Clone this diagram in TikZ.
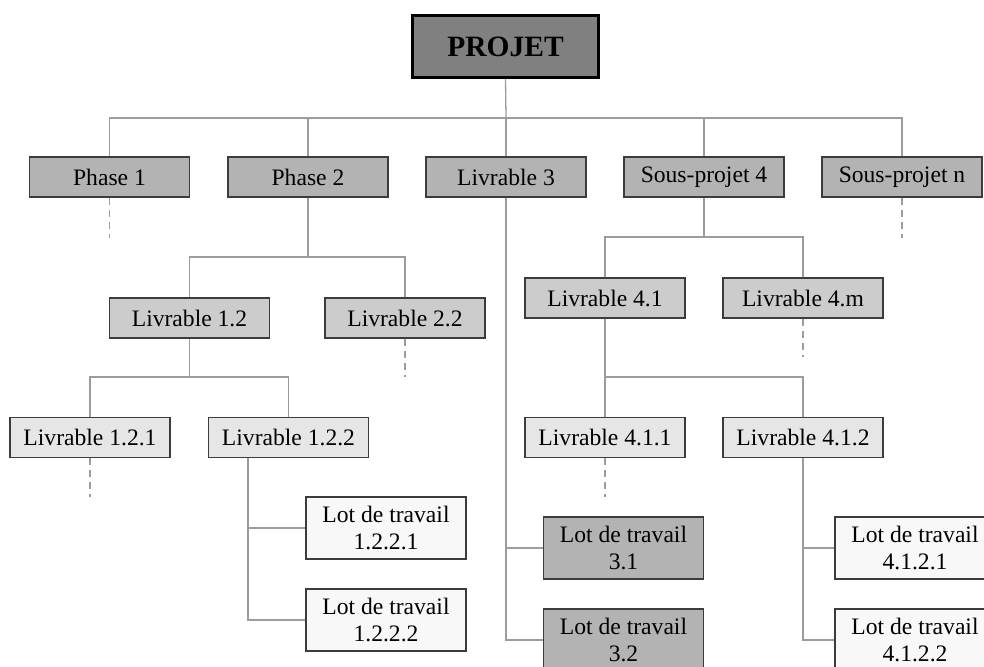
\documentclass[tikz,border=0pt]{standalone}
\usepackage{fontspec}
\setmainfont{Liberation Serif}
\definecolor{edge}{HTML}{3C3C3C}
\definecolor{wire}{HTML}{9C9C9C}
\definecolor{lvl0}{HTML}{808080}
\definecolor{lvl1}{HTML}{B3B3B3}
\definecolor{lvl2}{HTML}{CCCCCC}
\definecolor{lvl3}{HTML}{E6E6E6}
\definecolor{lvl4}{HTML}{F8F8F8}
\tikzset{
  wbs/.style={draw=edge, line width=1.2pt, inner sep=0pt, align=center,
    minimum width=160pt, minimum height=40pt,
    font=\fontsize{23.6}{27}\selectfont},
  top/.style={wbs, draw=black, fill=lvl0, line width=3.5pt,
    minimum width=186pt, minimum height=62pt,
    font=\fontsize{29.5}{33}\selectfont\bfseries},
  phase/.style={wbs, fill=lvl1},
  deliv/.style={wbs, fill=lvl2},
  subdeliv/.style={wbs, fill=lvl3},
  pack/.style={wbs, fill=lvl4, minimum height=62pt},
  packdark/.style={wbs, fill=lvl1, minimum height=62pt},
  link/.style={draw=wire, line width=1.3pt},
  open/.style={link, dash pattern=on 7pt off 5pt}
}
\begin{document}
\begin{tikzpicture}[x=1pt, y=-1pt]
\useasboundingbox (0,0) rectangle (984,666);
\clip (0,0) rectangle (984,666);

% root
\node[top] (proj) at (505.5,46.5) {PROJET};

% first level
\node[phase] (p1)  at (109.5,177) {Phase 1};
\node[phase] (p2)  at (308,177)   {Phase 2};
\node[phase] (l3)  at (506,177)   {Livrable 3};
\node[phase] (sp4) at (704,177)   {Sous-projet 4};
\node[phase] (spn) at (902,177)   {Sous-projet n};

% second level
\node[deliv] (l12) at (189.5,318) {Livrable 1.2};
\node[deliv] (l22) at (405,318)   {Livrable 2.2};
\node[deliv] (l41) at (605,298)   {Livrable 4.1};
\node[deliv] (l4m) at (803,298)   {Livrable 4.m};

% third level
\node[subdeliv] (l121) at (90,437.5)    {Livrable 1.2.1};
\node[subdeliv] (l122) at (288.5,437.5) {Livrable 1.2.2};
\node[subdeliv] (l411) at (605,437.5)   {Livrable 4.1.1};
\node[subdeliv] (l412) at (803,437.5)   {Livrable 4.1.2};

% work packages
\node[pack] (w1221) at (386,528) {Lot de travail\\1.2.2.1};
\node[pack] (w1222) at (386,620) {Lot de travail\\1.2.2.2};
\node[packdark] (w31) at (623.5,548) {Lot de travail\\3.1};
\node[packdark] (w32) at (623.5,640) {Lot de travail\\3.2};
\node[pack] (w4121) at (915,548) {Lot de travail\\4.1.2.1};
\node[pack] (w4122) at (915,640) {Lot de travail\\4.1.2.2};

% bus points
\coordinate (bus0)  at (506,118);
\coordinate (bus2)  at (308,257);
\coordinate (bus12) at (189.5,377);
\coordinate (bus4)  at (704,237);
\coordinate (bus41) at (605,377);

% ends of the dashed stubs
\coordinate (e1)   at (109.5,238);
\coordinate (en)   at (902,238);
\coordinate (e22)  at (405,377);
\coordinate (e4m)  at (803,357);
\coordinate (e121) at (90,497);
\coordinate (e411) at (605,497);

% solid connectors
\draw[link] (proj.south) -- (bus0);
\foreach \n in {p1,p2,l3,sp4,spn}
  \draw[link] (\n.north) |- (bus0);
\draw[link] (p2.south) -- (bus2);
\draw[link] (l12.north) |- (bus2);
\draw[link] (l22.north) |- (bus2);
\draw[link] (l12.south) -- (bus12);
\draw[link] (l121.north) |- (bus12);
\draw[link] (l122.north) |- (bus12);
\draw[link] (sp4.south) -- (bus4);
\draw[link] (l41.north) |- (bus4);
\draw[link] (l4m.north) |- (bus4);
\draw[link] (l41.south) -- (bus41);
\draw[link] (l411.north) |- (bus41);
\draw[link] (l412.north) |- (bus41);
\draw[link] ([xshift=40pt]l122.south west) |- (w1221.west);
\draw[link] ([xshift=40pt]l122.south west) |- (w1222.west);
\draw[link] (l3.south) |- (w31.west);
\draw[link] (l3.south) |- (w32.west);
\draw[link] (l412.south) |- (w4121.west);
\draw[link] (l412.south) |- (w4122.west);

% dashed connectors
\draw[open] (p1.south) -- (e1);
\draw[open] (spn.south) -- (en);
\draw[open] (l22.south) -- (e22);
\draw[open] (l4m.south) -- (e4m);
\draw[open] (l121.south) -- (e121);
\draw[open] (l411.south) -- (e411);
\end{tikzpicture}
\end{document}
